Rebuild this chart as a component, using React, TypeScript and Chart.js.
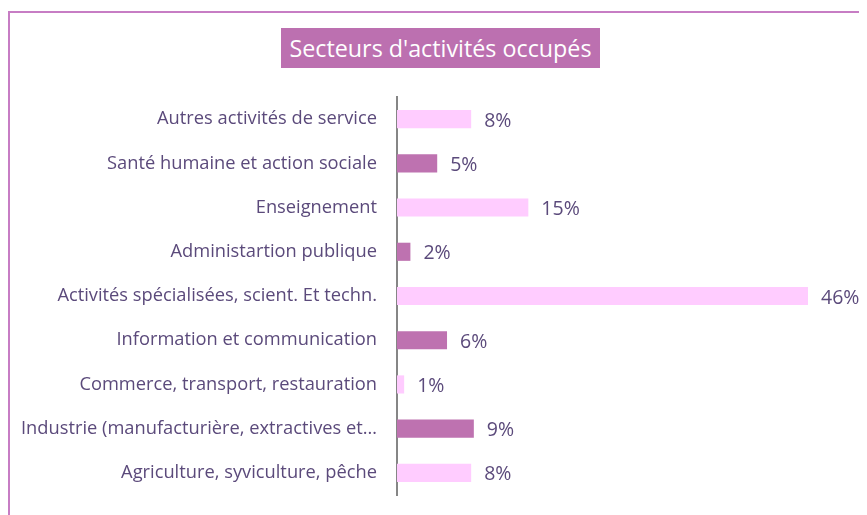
import React, { useEffect, useRef } from "react";
import { Chart, registerables } from "chart.js";

Chart.register(...registerables);

const categories = [
  "Autres activités de service",
  "Santé humaine et action sociale",
  "Enseignement",
  "Administartion publique",
  "Activités spécialisées, scient. Et techn.",
  "Information et communication",
  "Commerce, transport, restauration",
  "Industrie (manufacturière, extractives et…",
  "Agriculture, syviculture, pêche",
];
const values = [8.3, 4.5, 14.7, 1.5, 46, 5.6, 0.8, 8.6, 8.3];
const barColors = [
  "#FFCCFF", "#BE72B0", "#FFCCFF", "#BE72B0", "#FFCCFF",
  "#BE72B0", "#FFCCFF", "#BE72B0", "#FFCCFF",
];
const title = "Secteurs d'activités occupés";

const TEXT = "#5B4A7B";
const FONT = "'Open Sans', sans-serif";

const valueLabels = {
  id: "valueLabels",
  afterDatasetsDraw(chart: any) {
    const ctx = chart.ctx;
    const meta = chart.getDatasetMeta(0);
    ctx.save();
    ctx.fillStyle = TEXT;
    ctx.font = `19.5px ${FONT}`;
    ctx.textAlign = "left";
    ctx.textBaseline = "middle";
    meta.data.forEach((bar: any, i: number) => {
      const v = chart.data.datasets[0].data[i] as number;
      ctx.fillText(`${Math.round(v)}%`, bar.x + 13, bar.y + 2);
    });
    ctx.restore();
  },
};

export default function App() {
  const ref = useRef<HTMLCanvasElement | null>(null);
  useEffect(() => {
    if (!ref.current) return;
    const chart = new Chart(ref.current, {
      type: "bar",
      data: {
        labels: categories,
        datasets: [
          {
            data: values,
            backgroundColor: barColors,
            categoryPercentage: 0.82,
            barPercentage: 0.5,
          },
        ],
      },
      options: {
        indexAxis: "y",
        responsive: false,
        animation: false,
        layout: { padding: { top: 84, right: 59, bottom: 20, left: 0 } },
        plugins: {
          legend: { display: false },
          tooltip: { enabled: false },
          title: { display: false },
        },
        scales: {
          x: { display: false, min: 0, max: 46 },
          y: {
            afterFit: (s: any) => {
              s.width = 387;
              s.paddingTop = 0;
              s.paddingBottom = 0;
            },
            grid: { display: false, drawTicks: false },
            border: { display: true, color: "#868686", width: 2 },
            ticks: {
              padding: 20,
              color: TEXT,
              font: { family: FONT, size: 18.3 },
              autoSkip: false,
            },
          },
        },
      },
      plugins: [valueLabels],
    });
    return () => chart.destroy();
  }, []);

  return (
    <div
      style={{
        position: "relative",
        marginTop: 3,
        width: 859,
        height: 504,
        boxSizing: "border-box",
        borderTop: "2px solid #C77DC4",
        borderLeft: "2px solid #C77DC4",
      }}
    >
      <canvas ref={ref} width={857} height={502} style={{ display: "block" }} />
      <div
        style={{
          position: "absolute",
          left: 271,
          top: 15,
          width: 319,
          height: 40,
          background: "#BC70B0",
          color: "#FFFFFF",
          fontFamily: FONT,
          fontSize: 23.3,
          lineHeight: "40px",
          textAlign: "center",
          whiteSpace: "nowrap",
        }}
      >
        {title}
      </div>
    </div>
  );
}
